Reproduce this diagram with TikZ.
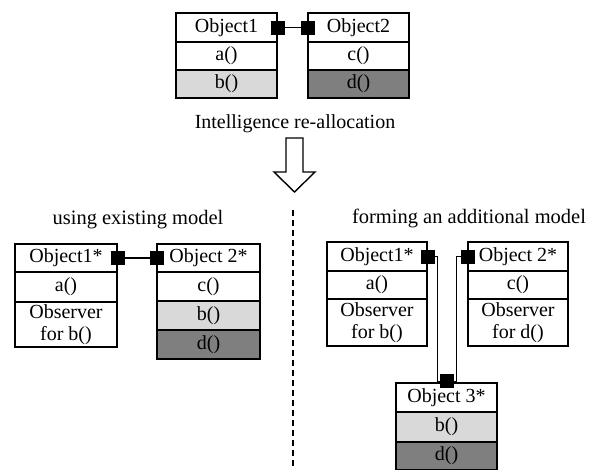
\documentclass[tikz,border=0pt]{standalone}
\usepackage{fontspec}
\setmainfont{Liberation Serif}
\definecolor{lightg}{HTML}{D9D9D9}
\definecolor{darkg}{HTML}{7F7F7F}
\begin{document}
\begin{tikzpicture}[x=1pt,y=-1pt,
  cell/.style={draw, line width=1.5pt, inner sep=0pt, align=center,
    font=\fontsize{20}{22}\selectfont, text height=13.5pt, text depth=4pt},
  lbl/.style={inner sep=0pt, font=\fontsize{20.5}{22}\selectfont},
  sq/.style={fill=black, draw=black, minimum size=13pt, inner sep=0pt},
  conn/.style={line width=1.4pt},
  tconn/.style={line width=0.9pt}
]
\useasboundingbox (0,0) rectangle (594,469);

% top
\node[cell, minimum width=101pt, minimum height=29pt] (a1) at (226.5,27.5) {Object1};
\node[cell, minimum width=101pt, minimum height=28pt] (a2) at (226.5,56) {a()};
\node[cell, minimum width=101pt, minimum height=28pt, fill=lightg] (a3) at (226.5,84) {b()};
\node[cell, minimum width=101pt, minimum height=29pt] (b1) at (358.5,27.5) {Object2};
\node[cell, minimum width=101pt, minimum height=28pt] (b2) at (358.5,56) {c()};
\node[cell, minimum width=101pt, minimum height=28pt, fill=darkg] (b3) at (358.5,84) {d()};
\node[sq] (sqa) at (a1.east) {};
\node[sq] (sqb) at (b1.west) {};
\draw[conn] (sqa) -- (sqb);

\node[lbl, font=\fontsize{20}{22}\selectfont] (t1) at (295,124) {Intelligence re-allocation};
\draw[line width=1.4pt, fill=white] (286,138) -- (303,138) -- (303,172) -- (315,172) -- (294.5,192) -- (274,172) -- (286,172) -- cycle;

% left
\node[lbl] (t2) at (138,220) {using existing model};
\node[cell, minimum width=102pt, minimum height=28pt] (c1) at (66,258) {Object1*};
\node[cell, minimum width=102pt, minimum height=30pt] (c2) at (66,287) {a()};
\node[cell, minimum width=102pt, minimum height=45pt, text height=, text depth=] (c3) at (66,324.5) {Observer\\for b()};
\node[cell, minimum width=103pt, minimum height=28pt] (d1) at (208.5,258) {Object 2*};
\node[cell, minimum width=103pt, minimum height=29pt] (d2) at (208.5,286.5) {c()};
\node[cell, minimum width=103pt, minimum height=29pt, fill=lightg] (d3) at (208.5,315.5) {b()};
\node[cell, minimum width=103pt, minimum height=29pt, fill=darkg] (d4) at (208.5,344.5) {d()};
\node[sq] (sqc) at (c1.east) {};
\node[sq] (sqd) at (d1.west) {};
\draw[conn] (sqc) -- (sqd);

\draw[line width=1.2pt, dash pattern=on 6pt off 4pt] (293,210) -- (293,469);

% right
\node[lbl] (t3) at (469,218) {forming an additional model};
\node[cell, minimum width=100pt, minimum height=29pt] (e1) at (377,256.5) {Object1*};
\node[cell, minimum width=100pt, minimum height=28pt] (e2) at (377,285) {a()};
\node[cell, minimum width=100pt, minimum height=47pt, text height=, text depth=] (e3) at (377,322.5) {Observer\\for b()};
\node[cell, minimum width=100pt, minimum height=29pt] (f1) at (518,256.5) {Object 2*};
\node[cell, minimum width=100pt, minimum height=28pt] (f2) at (518,285) {c()};
\node[cell, minimum width=100pt, minimum height=47pt, text height=, text depth=] (f3) at (518,322.5) {Observer\\for d()};
\node[cell, minimum width=101pt, minimum height=29pt] (g1) at (446.5,397.5) {Object 3*};
\node[cell, minimum width=101pt, minimum height=30pt, fill=lightg] (g2) at (446.5,427) {b()};
\node[cell, minimum width=101pt, minimum height=28pt, fill=darkg] (g3) at (446.5,456) {d()};
\node[sq] (sqe) at (e1.east) {};
\node[sq] (sqf) at (f1.west) {};
\node[sq] (sqg) at (446.5,381) {};
\draw[tconn] (sqe.east) -- ++(3,0) |- (sqg.west);
\draw[tconn] (sqf.west) -- ++(-4,0) |- (sqg.east);
\end{tikzpicture}
\end{document}
